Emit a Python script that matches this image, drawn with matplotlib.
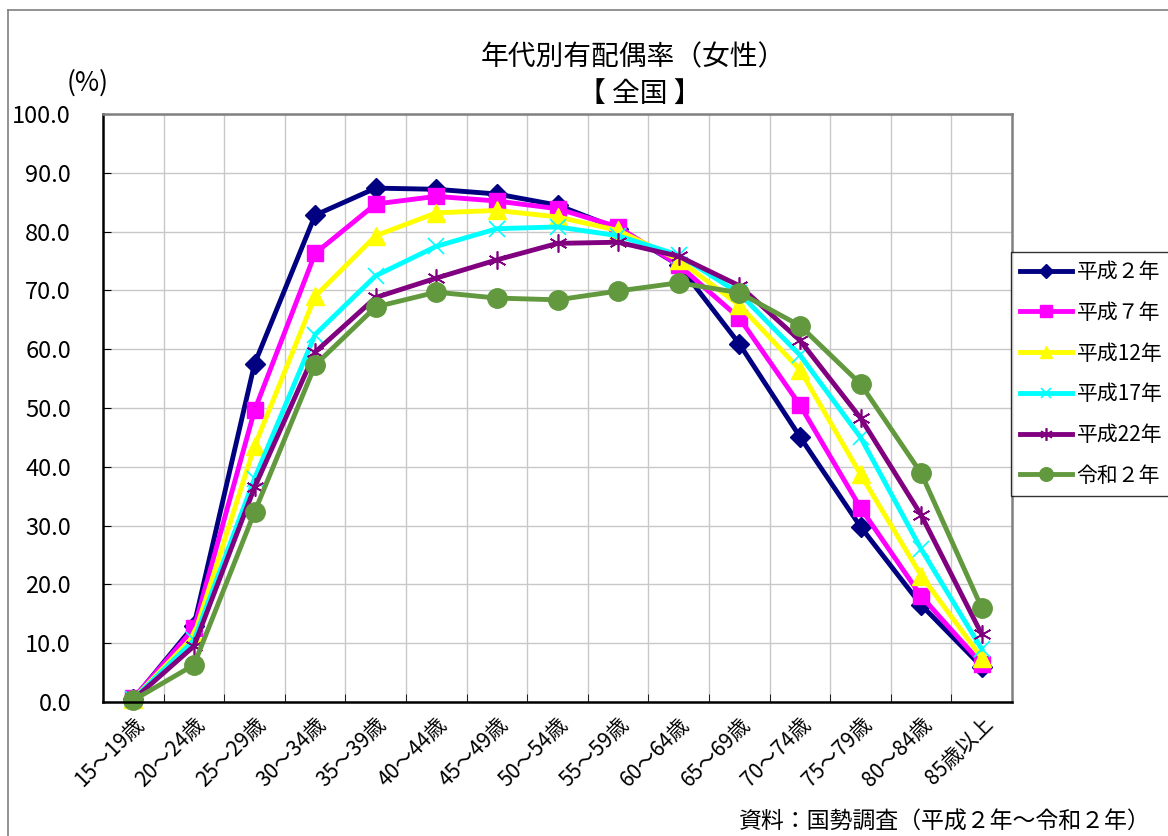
import matplotlib.pyplot as plt
from matplotlib.lines import Line2D

plt.rcParams['font.family'] = ['Noto Sans CJK JP', 'DejaVu Sans']
plt.rcParams['axes.unicode_minus'] = False

ages = ['15～19歳', '20～24歳', '25～29歳', '30～34歳', '35～39歳', '40～44歳',
        '45～49歳', '50～54歳', '55～59歳', '60～64歳', '65～69歳', '70～74歳',
        '75～79歳', '80～84歳', '85歳以上']

h02 = [0.5, 13.0, 57.5, 82.8, 87.4, 87.2, 86.4, 84.5, 80.5, 74.3, 60.9, 45.1, 29.8, 16.5, 6.0]
h07 = [0.6, 12.5, 49.6, 76.3, 84.7, 86.0, 85.2, 83.9, 80.8, 74.3, 65.3, 50.5, 33.0, 18.0, 6.5]
h12 = [0.5, 11.2, 43.5, 69.0, 79.3, 83.2, 83.6, 82.5, 80.2, 75.2, 67.5, 56.5, 38.7, 21.5, 7.5]
h17 = [0.5, 10.5, 38.0, 62.5, 72.5, 77.5, 80.5, 80.8, 79.3, 76.0, 69.5, 59.0, 45.0, 26.0, 9.0]
h22 = [0.4, 9.5, 36.5, 59.5, 68.8, 72.1, 75.2, 78.0, 78.2, 75.8, 70.8, 61.5, 48.3, 31.8, 11.5]
r02 = [0.3, 6.3, 32.3, 57.3, 67.2, 69.7, 68.7, 68.4, 69.9, 71.3, 69.6, 64.0, 54.1, 38.9, 16.0]

series = [
    ('平成２年', h02, '#000080', 'D', 10, 1),
    ('平成７年', h07, '#FF00FF', 's', 12, 1),
    ('平成12年', h12, '#FFFF00', '^', 13, 1),
    ('平成17年', h17, '#00FFFF', 'x', 11, 1.2),
    ('平成22年', h22, '#800080', (6, 2, 0), 13, 1.2),
    ('令和２年', r02, '#62993E', 'o', 14, 1),
]

fig = plt.figure(figsize=(11.68, 8.36), dpi=100)
ax = fig.add_axes([0.0882, 0.1603, 0.7783, 0.7033])

x = list(range(len(ages)))
for name, vals, col, mk, ms, mew in series:
    ax.plot(x, vals, color=col, lw=3.5, marker=mk, markersize=ms,
            markeredgewidth=mew, markeredgecolor=col, markerfacecolor=col,
            label=name, clip_on=False)

ax.set_xlim(-0.5, len(ages) - 0.5)
ax.set_ylim(0, 100)
ax.set_yticks(range(0, 101, 10))
ax.set_yticklabels([f'{v:.1f}' for v in range(0, 101, 10)], fontsize=17)
ax.set_xticks(x)
ax.set_xticklabels(ages, rotation=45, ha='right', rotation_mode='anchor', fontsize=15)
ax.set_xticks([i + 0.5 for i in range(len(ages) - 1)], minor=True)
ax.tick_params(axis='x', which='major', length=0, pad=8)
ax.tick_params(axis='x', which='minor', direction='in', length=6)
ax.tick_params(axis='y', direction='in', length=6, pad=23)
ax.grid(True, axis='y', color='#c8c8c8', lw=1)
ax.grid(True, axis='x', which='minor', color='#c8c8c8', lw=1)
ax.set_axisbelow(True)

for s in ['left', 'bottom']:
    ax.spines[s].set_color('black')
    ax.spines[s].set_linewidth(1.8)
for s in ['top', 'right']:
    ax.spines[s].set_color('#808080')
    ax.spines[s].set_linewidth(1.8)

fig.text(0.542, 0.932, '年代別有配偶率（女性）', ha='center', va='center', fontsize=20)
fig.text(0.548, 0.888, '【 全国 】', ha='center', va='center', fontsize=20)
fig.text(0.075, 0.901, '(%)', ha='center', va='center', fontsize=19)
fig.text(0.985, 0.017, '資料：国勢調査（平成２年～令和２年）', ha='right', va='center', fontsize=16.5)

leg = fig.legend(loc='upper left', bbox_to_anchor=(0.8655, 0.699), fontsize=15,
                 handlelength=2.5, labelspacing=0.9, markerscale=0.7,
                 frameon=True, fancybox=False, borderpad=0.45, handletextpad=0.2,
                 borderaxespad=0)
leg.get_frame().set_edgecolor('black')
leg.get_frame().set_linewidth(1)

# outer frame
fig.add_artist(Line2D([0.007, 0.007], [0, 0.988], color='#808080', lw=1.2))
fig.add_artist(Line2D([0.007, 1.0], [0.988, 0.988], color='#808080', lw=1.2))

plt.savefig('out.png', dpi=100)
